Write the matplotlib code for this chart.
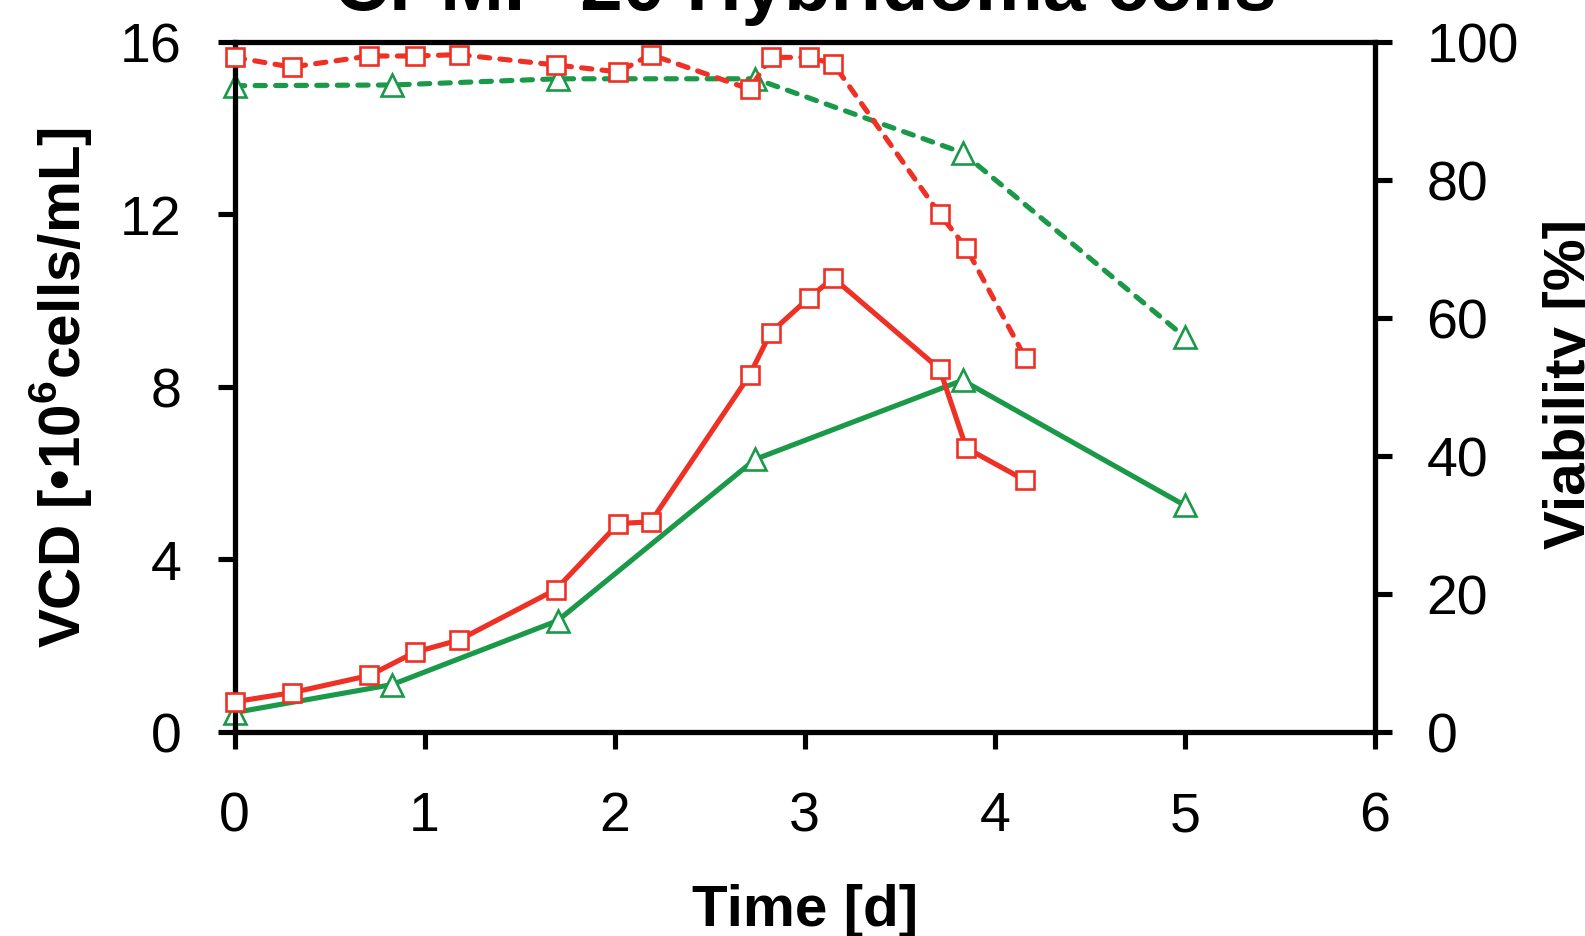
import matplotlib
matplotlib.use("Agg")
import matplotlib.pyplot as plt

plt.rcParams['font.family'] = ['Liberation Sans', 'DejaVu Sans']
plt.rcParams['mathtext.fontset'] = 'custom'
plt.rcParams['mathtext.rm'] = 'Liberation Sans'
plt.rcParams['mathtext.bf'] = 'Liberation Sans:bold'

# red series (squares)
t_red = [0, 0.30, 0.71, 0.95, 1.18, 1.69, 2.02, 2.19, 2.71, 2.82, 3.02, 3.15, 3.71, 3.85, 4.16]
vcd_red = [0.70, 0.91, 1.31, 1.85, 2.13, 3.30, 4.83, 4.87, 8.27, 9.25, 10.05, 10.52, 8.41, 6.58, 5.83]
via_red = [97.7, 96.3, 97.9, 97.9, 98.1, 96.6, 95.6, 98.1, 93.1, 97.7, 97.7, 96.8, 75.0, 70.1, 54.2]

# green series (triangles)
t_green = [0, 0.83, 1.70, 2.74, 3.83, 5.0]
vcd_green = [0.45, 1.10, 2.58, 6.32, 8.15, 5.25]
via_green = [93.6, 93.7, 94.6, 94.6, 83.9, 57.2]

RED = '#EE3124'
GREEN = '#1A9A48'
LW = 3.7
DASH = (0, (2.0, 2.0))

fig = plt.figure(figsize=(15.85, 9.37), dpi=100)
ax = fig.add_axes([234.5 / 1585, 1 - 733 / 937, (1375 - 234.5) / 1585, (733 - 42.5) / 937])
ax2 = ax.twinx()

tri = dict(marker='^', ms=16, mfc='white', mec=GREEN, mew=1.9, clip_on=False)
sq = dict(marker='s', ms=13, mfc='white', mec=RED, mew=1.9, clip_on=False)

# viability on right axis
ax2.plot(t_green, via_green, color=GREEN, lw=LW, ls=DASH, dash_capstyle='round', zorder=2, **tri)
ax2.plot(t_red, via_red, color=RED, lw=LW, ls=DASH, dash_capstyle='round', zorder=3, **sq)

# VCD on left axis, drawn on the twin so it stays on top
vcd_to_via = 100 / 16
ax2.plot(t_green, [v * vcd_to_via for v in vcd_green], color=GREEN, lw=LW, zorder=2, **tri)
ax2.plot(t_red, [v * vcd_to_via for v in vcd_red], color=RED, lw=LW, zorder=3, **sq)

ax.set_xlim(0, 6)
ax.set_ylim(0, 16)
ax2.set_ylim(0, 100)
ax.set_xticks(range(0, 7))
ax.set_yticks([0, 4, 8, 12, 16])
ax2.set_yticks([0, 20, 40, 60, 80, 100])

for a in (ax, ax2):
    for s in a.spines.values():
        s.set_linewidth(LW)
    a.patch.set_visible(False)

ax.tick_params(axis='x', direction='out', length=12, width=LW, labelsize=40, pad=30)
ax.tick_params(axis='y', direction='out', length=12, width=LW, labelsize=40, pad=26)
ax2.tick_params(axis='y', direction='out', length=12, width=LW, labelsize=40, pad=25)

fig.text(0.508, 1 - 10 / 937, 'CPMP-20 Hybridoma cells', ha='center', va='baseline',
         fontsize=55, fontweight='bold')
fig.text(0.508, 1 - 926 / 937, 'Time [d]', ha='center', va='baseline',
         fontsize=42, fontweight='bold')
fig.text(28 / 1585, 1 - 388 / 937, r'VCD [•10$^{\mathbf{6}}$cells/mL]', ha='left', va='center',
         rotation=90, fontsize=42, fontweight='bold')
fig.text(1543 / 1585, 1 - 384 / 937, 'Viability [%]', ha='left', va='center',
         rotation=90, fontsize=42, fontweight='bold')

fig.savefig('out.png', dpi=100)
